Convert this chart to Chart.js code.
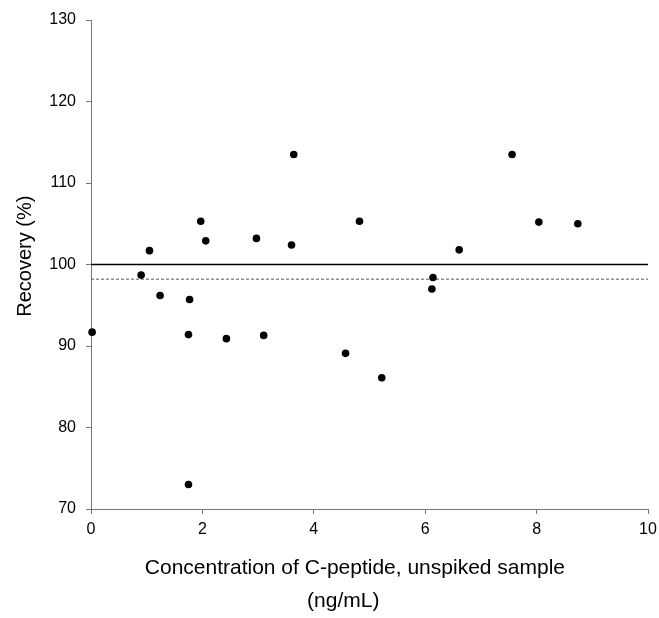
<!DOCTYPE html>
<html>
<head>
<meta charset="utf-8">
<script src="https://cdn.jsdelivr.net/npm/chart.js@4/dist/chart.umd.min.js"></script>
<style>
  body { margin: 0; background: #fff; }
  #wrap { width: 659px; height: 618px; }
</style>
</head>
<body>
<div id="wrap"><canvas id="scatterChart"></canvas></div>
<script>
// Concentration of C-peptide (ng/mL) and recovery (%)
const conc = [0.02, 0.9, 1.05, 1.24, 1.75, 1.75, 1.77, 1.97, 2.06, 2.43, 2.97, 3.1, 3.6, 3.64,
  4.57, 4.82, 5.22, 6.14, 6.12, 6.61, 7.56, 8.04, 8.74];
const recovery = [91.7, 98.7, 101.7, 96.2, 73.0, 91.4, 95.7, 105.3, 102.9, 90.9, 103.2, 91.3, 102.4, 113.5,
  89.1, 105.3, 86.1, 98.4, 97.0, 101.8, 113.5, 105.2, 105.0];

// horizontal reference lines
const lineX = [0, 10];
const targetLevel = 100;
const meanLevel = 98.2;

const points = conc.map((c, i) => ({ x: c, y: recovery[i] }));
const flat = (level) => lineX.map((x) => ({ x: x, y: level }));

const font = "'Liberation Sans', Arial, sans-serif";

const ctx = document.getElementById("scatterChart").getContext("2d");
new Chart(ctx, {
  type: "scatter",
  data: {
    datasets: [
      {
        label: "Recovery",
        data: points,
        clip: false,
        pointRadius: 3.8,
        pointBorderWidth: 0,
        pointBackgroundColor: "#000",
      },
      {
        label: "100%",
        data: flat(targetLevel),
        showLine: true,
        borderColor: "#000",
        borderWidth: 1.3,
        pointRadius: 0,
      },
      {
        label: "Mean",
        data: flat(meanLevel),
        showLine: true,
        borderColor: "#555",
        borderWidth: 1,
        borderDash: [3, 2],
        pointRadius: 0,
      },
    ],
  },
  options: {
    responsive: true,
    maintainAspectRatio: false,
    animation: false,
    layout: { padding: { left: 0, right: 11, top: 20, bottom: 0 } },
    plugins: {
      legend: { display: false },
      tooltip: { enabled: false },
    },
    scales: {
      x: {
        type: "linear",
        min: 0,
        max: 10,
        afterFit: (scale) => {
          scale.height = 109;
          scale.paddingRight = 0;
          scale.paddingLeft = 0;
        },
        ticks: { stepSize: 2, color: "#000", padding: 6, font: { family: font, size: 16 } },
        grid: { drawOnChartArea: false, tickLength: 5, color: "#777" },
        border: { color: "#777", width: 1 },
        title: {
          display: true,
          text: ["Concentration of C-peptide, unspiked sample     ", "(ng/mL)         "],
          color: "#000",
          font: { family: font, size: 21, lineHeight: 1.57 },
          padding: { top: 0, bottom: 0 },
        },
      },
      y: {
        min: 70,
        max: 130,
        afterFit: (scale) => { scale.width = 91; },
        ticks: { stepSize: 10, color: "#000", padding: 10, font: { family: font, size: 16 } },
        grid: { drawOnChartArea: false, tickLength: 5, color: "#777" },
        border: { color: "#777", width: 1 },
        title: {
          display: true,
          text: "   Recovery (%)",
          color: "#000",
          font: { family: font, size: 20 },
          padding: { top: 13, bottom: 0 },
        },
      },
    },
  },
});
</script>
</body>
</html>
